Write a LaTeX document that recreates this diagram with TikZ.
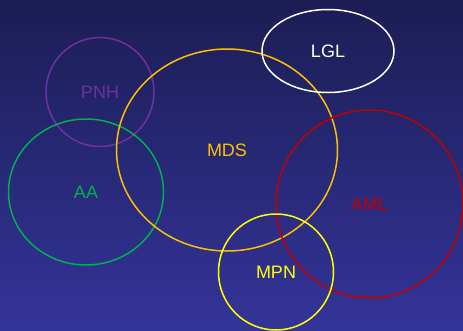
\documentclass[tikz,border=0pt]{standalone}
\usepackage{xcolor}
\usepackage{fontspec}
\setmainfont{Liberation Sans}
\usepackage{tikz}
\usetikzlibrary{shapes.geometric}
\definecolor{bgtop}{RGB}{28,29,84}
\definecolor{bgbottom}{RGB}{51,52,153}
\definecolor{pnhcol}{RGB}{112,48,160}
\definecolor{aacol}{RGB}{0,176,80}
\definecolor{mdscol}{RGB}{255,192,0}
\definecolor{amlcol}{RGB}{192,0,0}
\definecolor{mpncol}{RGB}{255,255,0}
\tikzset{
    venn/.style={
        ellipse, draw=#1, text=#1, line width=1.5pt,
        inner sep=0pt, align=center,
        font=\fontsize{18}{18}\selectfont
    }
}

\begin{document}
\begin{tikzpicture}[x=1pt, y=-1pt]
        % background
        \fill [top color=bgtop, bottom color=bgbottom] (0,0) rectangle (463,330);
        \useasboundingbox (0,0) rectangle (463,330);
        
        \node [venn=pnhcol, minimum width=108pt, minimum height=109pt] (pnh) at (100,92) {PNH};
        \node [venn=aacol, minimum width=155pt, minimum height=146pt] (aa) at (86,192) {AA};
        \node [venn=mdscol, minimum width=221pt, minimum height=202pt] (mds) at (227,150) {MDS};
        \node [venn=white, minimum width=132pt, minimum height=83pt] (lgl) at (328,51) {LGL};
        \node [venn=amlcol, minimum width=187pt, minimum height=188pt] (aml) at (369.5,204) {AML};
        \node [venn=mpncol, minimum width=115pt, minimum height=116pt] (mpn) at (276,272) {MPN};
    \end{tikzpicture}
\end{document}
